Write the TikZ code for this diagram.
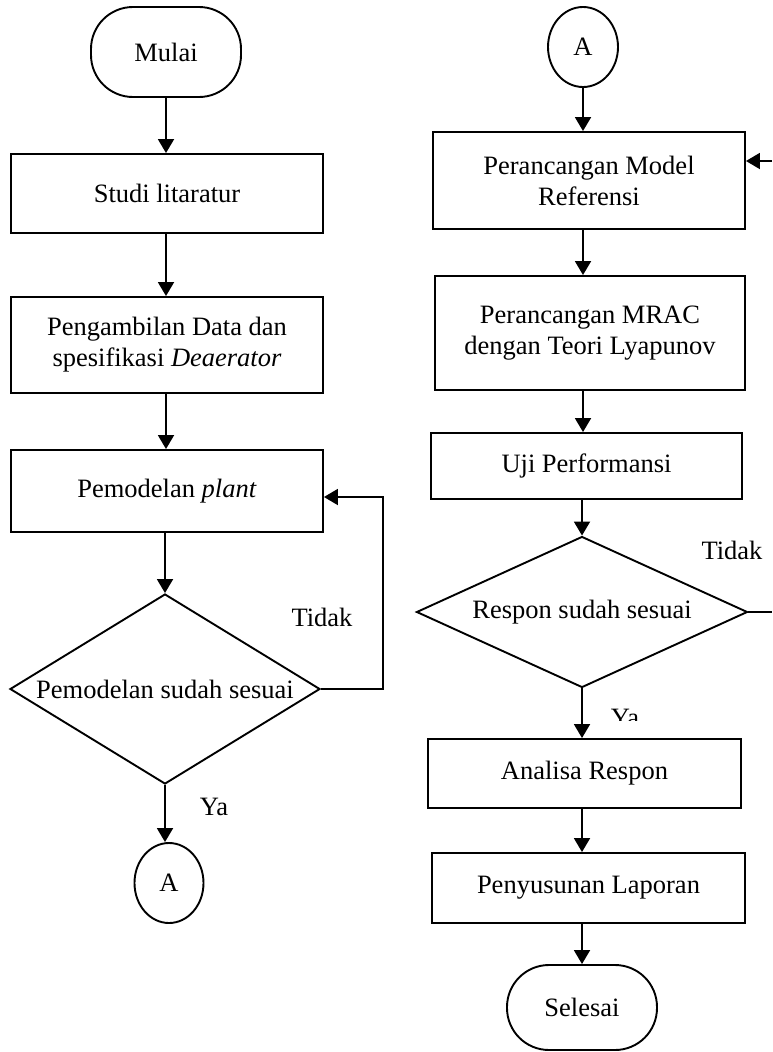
\documentclass[tikz,border=0pt]{standalone}
\usepackage{fontspec}
\setmainfont{Liberation Serif}
\usetikzlibrary{shapes.geometric,arrows.meta}
\tikzset{
  base/.style={draw, line width=1.9pt, inner sep=0pt, align=center, font=\fontsize{26.5}{31}\selectfont},
  proc/.style={base, rectangle},
  term/.style={base, rectangle, rounded corners=42pt},
  conn/.style={base, ellipse},
  dec/.style={base, diamond},
  flow/.style={line width=1.9pt, -{Triangle[length=14pt,width=16pt]}},
  plain/.style={line width=1.9pt},
  lbl/.style={font=\fontsize{26.5}{31}\selectfont, inner sep=0pt}
}
\begin{document}
\begin{tikzpicture}[x=1pt,y=-1pt]
\useasboundingbox (0,0) rectangle (772,1052);
% left column
\node[term, minimum width=150pt, minimum height=90pt] (mulai) at (166,52) {Mulai};
\node[proc, minimum width=312pt, minimum height=79pt] (studi) at (167,193.5) {Studi litaratur};
\node[proc, minimum width=312pt, minimum height=96pt] (ambil) at (167,345) {Pengambilan Data dan\\spesifikasi \textit{Deaerator}};
\node[proc, minimum width=312pt, minimum height=82pt] (model) at (167,491) {Pemodelan \textit{plant}};
\node[dec, minimum width=310pt, minimum height=190pt, label={[lbl]center:Pemodelan sudah sesuai}] (dia1) at (165,689) {};
\node[conn, minimum width=69pt, minimum height=80pt] (a1) at (169,883) {A};
\coordinate (loop1) at (383,497);
\node[lbl] (tidak1) at (322,617) {Tidak};
\node[lbl] (ya1) at (214,807) {Ya};

\draw[flow] (mulai.south) -- (mulai.south |- studi.north);
\draw[flow] (studi.south -| mulai.south) -- (mulai.south |- ambil.north);
\draw[flow] (ambil.south -| mulai.south) -- (mulai.south |- model.north);
\draw[flow] (model.south -| dia1.north) -- (dia1.north);
\draw[flow] (dia1.east) -| (loop1) -- (model.east |- loop1);
\draw[flow] (dia1.south) -- (dia1.south |- a1.north);

% right column
\node[conn, minimum width=70pt, minimum height=80pt] (a2) at (583,47) {A};
\node[proc, minimum width=312pt, minimum height=97pt] (ref) at (589,180.5) {Perancangan Model\\Referensi};
\node[proc, minimum width=310pt, minimum height=114pt] (mrac) at (590,333) {Perancangan MRAC\\dengan Teori Lyapunov};
\node[proc, minimum width=311pt, minimum height=66pt] (uji) at (586.5,466) {Uji Performansi};
\node[dec, minimum width=331pt, minimum height=151pt, label={[lbl]center:Respon sudah sesuai}] (dia2) at (582,612) {};
\node[proc, minimum width=313pt, minimum height=69pt] (analisa) at (584.5,773.5) {Analisa Respon};
\node[proc, minimum width=313pt, minimum height=70pt] (lapor) at (588.5,888) {Penyusunan Laporan};
\node[term, minimum width=150pt, minimum height=85pt] (selesai) at (582,1007.5) {Selesai};
\coordinate (in1) at (772,161);
\coordinate (out1) at (772,612);
\node[lbl] (tidak2) at (732,550) {Tidak};
\begin{scope}
\clip (590,690) rectangle (670,720);
\node[lbl, anchor=base] (ya2) at (625,726) {Ya};
\end{scope}

\draw[flow] (a2.south) -- (a2.south |- ref.north);
\draw[flow] (ref.south -| a2.south) -- (a2.south |- mrac.north);
\draw[flow] (mrac.south -| a2.south) -- (a2.south |- uji.north);
\draw[flow] (uji.south -| dia2.north) -- (dia2.north);
\draw[flow] (dia2.south) -- (dia2.south |- analisa.north);
\draw[flow] (analisa.south -| dia2.south) -- (dia2.south |- lapor.north);
\draw[flow] (lapor.south -| selesai.north) -- (selesai.north);
\draw[flow] (in1) -- (ref.east |- in1);
\draw[plain] (dia2.east) -- (out1);
\end{tikzpicture}
\end{document}
